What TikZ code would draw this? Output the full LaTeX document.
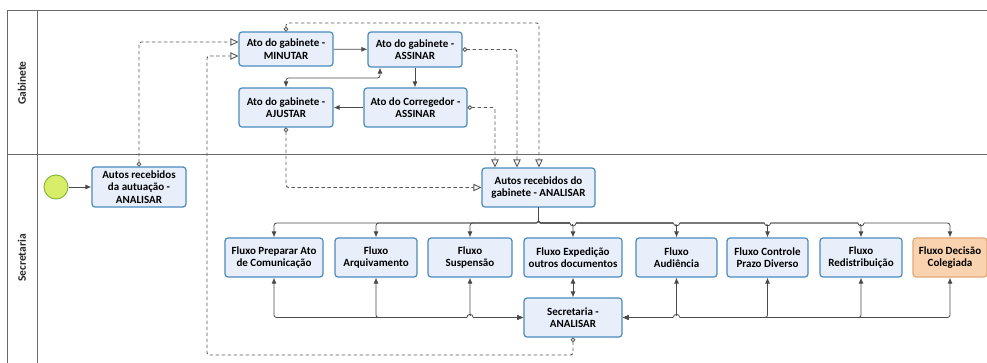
\documentclass[tikz,border=0pt]{standalone}
\usepackage{fontspec}
\setmainfont{Carlito}
\usetikzlibrary{arrows.meta}
\definecolor{taskborder}{HTML}{4A8BBE}
\definecolor{taskfill}{HTML}{E8EFFB}
\definecolor{orfill}{HTML}{F9D3B0}
\definecolor{orborder}{HTML}{E2A878}
\definecolor{linecol}{HTML}{4A4A4A}
\definecolor{msgcol}{HTML}{5A5A5A}
\definecolor{framecol}{HTML}{6A6A6A}
\definecolor{startfill}{HTML}{D8EE6A}
\definecolor{startborder}{HTML}{8CB83C}
\begin{document}
\begin{tikzpicture}[x=1pt,y=-1pt,
  task/.style={draw=taskborder,fill=taskfill,line width=1.2pt,rounded corners=3pt,
    align=center,inner sep=1pt,font=\fontsize{11}{12.5}\selectfont\bfseries,text=black},
  orange/.style={task,draw=orborder,fill=orfill},
  seq/.style={draw=linecol,line width=0.8pt,rounded corners=2.5pt,-{Latex[length=6pt,width=5pt]}},
  biseq/.style={seq,{Latex[length=6pt,width=5pt]}-{Latex[length=6pt,width=5pt]}},
  msg/.style={draw=msgcol,line width=0.9pt,dash pattern=on 3.5pt off 2.5pt,rounded corners=2.5pt,
    {Circle[open,length=4.5pt,width=4.5pt,fill=white]}-{Triangle[open,length=8pt,width=7.5pt,fill=white]}},
  lane/.style={font=\fontsize{11.5}{13}\selectfont\bfseries,text=black!85,rotate=90},
  frame/.style={draw=framecol,line width=1pt}
]
\useasboundingbox (0,0) rectangle (987,363);
% frame
\draw[frame] (987,11) -- (7,11) -- (7,363);
\draw[frame] (37,11) -- (37,363);
\draw[frame] (7,155) -- (987,155);
\node[lane] (lg) at (22,83) {Gabinete};
\node[lane] (ls) at (22,258) {Secretaria};

% nodes
\node[circle,draw=startborder,fill=startfill,line width=1pt,minimum size=24pt,inner sep=0pt] (start) at (56,187) {};
\node[task,minimum width=94pt,minimum height=40pt] (aut) at (139,187) {Autos recebidos\\da autuação -\\ANALISAR};
\node[task,minimum width=94pt,minimum height=34pt] (min) at (286,49) {Ato do gabinete -\\MINUTAR};
\node[task,minimum width=94pt,minimum height=35pt] (ass) at (415,49.5) {Ato do gabinete -\\ASSINAR};
\node[task,minimum width=94pt,minimum height=39pt] (aju) at (286,107.5) {Ato do gabinete -\\AJUSTAR};
\node[task,minimum width=103pt,minimum height=39pt] (cor) at (415.5,107.5) {Ato do Corregedor -\\ASSINAR};
\node[task,minimum width=113pt,minimum height=39pt] (gab) at (538.5,187.5) {Autos recebidos do\\gabinete - ANALISAR};

\node[task,minimum width=98pt,minimum height=39pt] (prep) at (274,257.5) {Fluxo Preparar Ato\\de Comunicação};
\node[task,minimum width=82pt,minimum height=39pt] (arq) at (376,257.5) {Fluxo\\Arquivamento};
\node[task,minimum width=84pt,minimum height=39pt] (susp) at (470,257.5) {Fluxo\\Suspensão};
\node[task,minimum width=98pt,minimum height=39pt] (exp) at (573,257.5) {Fluxo Expedição\\outros documentos};
\node[task,minimum width=81pt,minimum height=39pt] (aud) at (676.5,257.5) {Fluxo\\Audiência};
\node[task,minimum width=81pt,minimum height=39pt] (pra) at (767.5,257.5) {Fluxo Controle\\Prazo Diverso};
\node[task,minimum width=82pt,minimum height=39pt] (red) at (861,257.5) {Fluxo\\Redistribuição};
\node[orange,minimum width=74pt,minimum height=39pt] (dec) at (950,257.5) {Fluxo Decisão\\Colegiada};
\node[task,minimum width=98pt,minimum height=39pt] (sec) at (573,317.5) {Secretaria -\\ANALISAR};

% sequence flows
\draw[seq] (start) -- (aut);
\draw[seq] (min) -- (ass);
\draw[seq] (ass.south) -- (cor.north -| ass.south);
\draw[seq] (cor) -- (aju);
\draw[biseq] (aju.north) |- (380,78) -- (ass.south -| 380,0);

\foreach \n in {prep,arq,susp,exp,aud,pra,red,dec}{
  \draw[seq] (gab.south) -- ++(0,15.5) -| (\n.north);
}
% jumps on the top bus
\foreach \xx in {573,676.5,767.5,861}{
  \fill[white] (\xx-3.2,221.2) rectangle (\xx+3.2,224.3);
  \draw[linecol,line width=0.8pt] (\xx-3.2,222.7) arc[start angle=180,end angle=360,radius=3.2pt];
}
\foreach \n in {prep,arq,susp}{
  \draw[biseq] (\n.south) |- (sec.west);
}
\foreach \n in {aud,pra,red,dec}{
  \draw[biseq] (\n.south) |- (sec.east);
}
\draw[biseq] (exp.south) -- (sec.north);
% jumps on the bottom bus
\foreach \xx in {470,676.5}{
  \fill[white] (\xx-3.2,315.8) rectangle (\xx+3.2,318.8);
  \draw[linecol,line width=0.8pt] (\xx-3.2,317.5) arc[start angle=180,end angle=0,radius=3.2pt];
}

% message flows
\draw[msg] (aut.north) |- ([yshift=7pt]min.west);
\draw[msg] (sec.south) |- (207,355) |- ([yshift=-7pt]min.west);
\draw[msg] (aju.south) |- (gab.west);
\draw[msg] (min.north) |- (539,23) -- (gab.north -| 539,0);
\draw[msg] (ass.east) -| (gab.north -| 517,0);
\draw[msg] (cor.east) -| (gab.north -| 495,0);
\end{tikzpicture}
\end{document}
